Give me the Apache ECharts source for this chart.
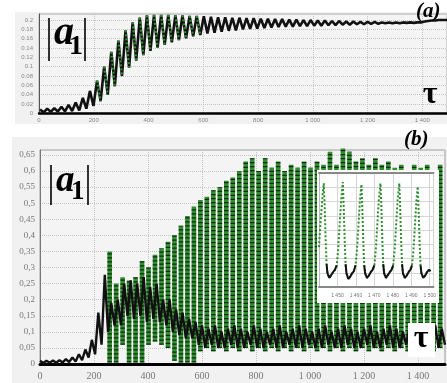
<!DOCTYPE html>
<html>
<head>
<meta charset="utf-8">
<script src="https://cdn.jsdelivr.net/npm/echarts@6/dist/echarts.min.js"></script>
<style>
html, body { margin: 0; padding: 0; background: #fff; }
#chart { position: absolute; left: 0; top: 0; width: 447px; height: 383px; }
#inset { position: absolute; left: 317px; top: 170px; width: 122px; height: 133px; background: #fff; }
</style>
</head>
<body>
<div id="chart"></div>
<div id="inset"></div>
<script>
// panel (a): |a1|, read every half period (peak, trough, peak ...)
const aStart = 4, aStep = 13;
const aVal = [
  0.008, 0.002, 0.010, 0.003, 0.011, 0.004, 0.014, 0.004, 0.018, 0.005,
  0.023, 0.006, 0.033, 0.010, 0.048, 0.016, 0.070, 0.026, 0.100, 0.040,
  0.132, 0.058, 0.156, 0.080, 0.178, 0.098, 0.195, 0.113, 0.205, 0.125,
  0.210, 0.134, 0.211, 0.141, 0.211, 0.147, 0.211, 0.152, 0.210, 0.157,
  0.210, 0.161, 0.209, 0.165, 0.209, 0.168, 0.208, 0.171, 0.207, 0.173,
  0.206, 0.175, 0.206, 0.177, 0.205, 0.178, 0.205, 0.180, 0.204, 0.181,
  0.204, 0.182, 0.203, 0.183, 0.203, 0.184, 0.202, 0.185, 0.202, 0.186,
  0.201, 0.186, 0.201, 0.187, 0.200, 0.187, 0.200, 0.188, 0.199, 0.188,
  0.199, 0.189, 0.198, 0.189, 0.198, 0.190, 0.197, 0.190, 0.197, 0.191,
  0.196, 0.191, 0.196, 0.192, 0.196, 0.192, 0.195, 0.193, 0.195, 0.193,
  0.195, 0.193, 0.195, 0.194, 0.195, 0.194, 0.195, 0.195, 0.197, 0.198,
  0.199, 0.199, 0.200, 0.200, 0.200, 0.200
];
// falling edges drawn green in (a), index range into aVal
const aGreenFrom = 16, aGreenTo = 46;

// panel (b): lower black trace
const bBlackStart = 0, bBlackStep = 12;
const bBlack = [
  0.010, 0.003, 0.010, 0.004, 0.011, 0.004, 0.012, 0.005, 0.015, 0.006,
  0.020, 0.008, 0.030, 0.012, 0.045, 0.020, 0.075, 0.030, 0.160, 0.060,
  0.277, 0.100, 0.190, 0.120, 0.200, 0.120, 0.250, 0.150, 0.260, 0.140,
  0.250, 0.150, 0.270, 0.130, 0.240, 0.140, 0.250, 0.130, 0.200, 0.120,
  0.200, 0.100, 0.170, 0.090, 0.160, 0.080, 0.140, 0.080, 0.130, 0.060,
  0.12, 0.05, 0.11, 0.06, 0.12, 0.05, 0.10, 0.05, 0.11, 0.06,
  0.12, 0.05, 0.11, 0.05, 0.10, 0.06, 0.12, 0.05, 0.11, 0.05,
  0.10, 0.06, 0.11, 0.05, 0.12, 0.05, 0.10, 0.06, 0.11, 0.05,
  0.12, 0.05, 0.11, 0.06, 0.10, 0.05, 0.11, 0.05, 0.12, 0.06,
  0.10, 0.05, 0.11, 0.05, 0.12, 0.06, 0.11, 0.05, 0.10, 0.05,
  0.11, 0.06, 0.12, 0.05, 0.10, 0.05, 0.11, 0.06, 0.12, 0.05,
  0.11, 0.05, 0.10, 0.06, 0.11, 0.05, 0.12, 0.05, 0.10, 0.06,
  0.11, 0.05, 0.12, 0.05, 0.11, 0.06
];
// panel (b): green swing columns, top and bottom of each
const bColStart = 258, bColStep = 24;
const bHi = [
  0.35, 0.25, 0.27, 0.26, 0.27, 0.32, 0.30, 0.34, 0.36, 0.38,
  0.40, 0.43, 0.46, 0.49, 0.51, 0.52, 0.54, 0.55, 0.57, 0.58,
  0.60, 0.63, 0.64, 0.60, 0.64, 0.61, 0.63, 0.60, 0.62, 0.61,
  0.63, 0.61, 0.63, 0.62, 0.66, 0.62, 0.67, 0.66, 0.63, 0.64,
  0.62, 0.64, 0.62, 0.63, 0.61, 0.62, 0.60, 0.62, 0.61, 0.62,
  0.60, 0.62
];
const bLo = [
  0.005, 0.005, 0.06, 0.005, 0.005, 0.005, 0.06, 0.07, 0.06, 0.05,
  0.010, 0.005, 0.005, 0.005, 0.04, 0.05, 0.04, 0.05, 0.04, 0.05,
  0.04, 0.05, 0.04, 0.05, 0.04, 0.05, 0.04, 0.05, 0.04, 0.05,
  0.04, 0.05, 0.04, 0.05, 0.04, 0.05, 0.04, 0.05, 0.04, 0.05,
  0.04, 0.05, 0.04, 0.05, 0.04, 0.05, 0.04, 0.05, 0.04, 0.05,
  0.04, 0.05
];

// inset of (b): tau 1440..1500
const insTau = [
  1440.0, 1441.0, 1442.0, 1442.6,
  1443.1, 1443.6, 1444.1, 1444.6, 1445.6, 1446.6, 1447.6, 1448.6, 1449.6, 1450.4, 1451.2, 1452.0, 1452.9,
  1453.4, 1453.9, 1454.4, 1454.9, 1455.9, 1456.9, 1457.9, 1458.9, 1459.8, 1460.6, 1461.4, 1462.2, 1463.0,
  1463.5, 1464.0, 1464.5, 1465.0, 1466.0, 1467.0, 1468.0, 1469.0, 1470.0, 1470.8, 1471.6, 1472.4, 1473.3,
  1473.8, 1474.3, 1474.8, 1475.3, 1476.3, 1477.3, 1478.3, 1479.3, 1480.2, 1481.0, 1481.8, 1482.6, 1483.5,
  1484.0, 1484.5, 1485.0, 1485.5, 1486.5, 1487.5, 1488.5, 1489.5, 1490.4, 1491.2, 1492.0, 1492.8, 1493.5,
  1494.0, 1494.5, 1495.0, 1495.5, 1496.5, 1497.5, 1498.5, 1499.5, 1500.5
];
const insVal = [
  0.35, 0.60, 0.82, 0.91,
  0.70, 0.42, 0.20, 0.12, 0.08, 0.09, 0.13, 0.15, 0.19, 0.33, 0.55, 0.76, 0.92,
  0.70, 0.42, 0.20, 0.12, 0.07, 0.09, 0.12, 0.14, 0.19, 0.33, 0.55, 0.76, 0.90,
  0.68, 0.40, 0.19, 0.12, 0.08, 0.10, 0.13, 0.15, 0.19, 0.33, 0.55, 0.76, 0.91,
  0.70, 0.42, 0.20, 0.12, 0.08, 0.09, 0.13, 0.15, 0.19, 0.33, 0.55, 0.76, 0.91,
  0.69, 0.41, 0.20, 0.12, 0.08, 0.10, 0.13, 0.15, 0.19, 0.33, 0.55, 0.76, 0.88,
  0.66, 0.40, 0.19, 0.12, 0.08, 0.10, 0.13, 0.15, 0.14
];

const green = '#2f8f2f';
const serif = 'Liberation Serif';
const narrow = 'Liberation Sans Narrow';

function tauLabel(v) {
  if (v >= 1000) return '1 ' + String(v - 1000).padStart(3, '0');
  return String(v);
}

// text in the panels
function txt(x, y, s, size, italic, align) {
  return { type: 'text', z: 100, x: x, y: y,
    style: { text: s, fontSize: size, fontWeight: 'bold', fontStyle: italic ? 'italic' : 'normal',
      fontFamily: serif, fill: '#000', align: align || 'left', verticalAlign: 'middle' } };
}
function bar(x, y1, y2) {
  return { type: 'line', z: 100, shape: { x1: x, y1: y1, x2: x, y2: y2 }, style: { stroke: '#000', lineWidth: 1.6 } };
}

// build series data
let aLine = aVal.map((v, i) => [aStart + i * aStep, v]);
let aGreen = [];
for (let i = aGreenFrom; i < aGreenTo; i += 2) {
  aGreen.push(aLine[i], aLine[i + 1], [aLine[i + 1][0], '-']);
}
let bLine = bBlack.map((v, i) => [bBlackStart + i * bBlackStep, v]);
let bCols = [];
bHi.forEach((hi, k) => {
  let t = bColStart + k * bColStep;
  bCols.push([t, bLo[k]], [t, hi], [t, '-']);
});

var myChart = echarts.init(document.getElementById('chart'));

let option = {
  animation: false,
  graphic: [
    { type: 'rect', z: -10, shape: { x: 15, y: 12, width: 432, height: 112 }, style: { fill: '#f1f1f1' } },
    { type: 'rect', z: -10, shape: { x: 12, y: 137, width: 435, height: 246 }, style: { fill: '#f1f1f1' } },
    bar(49, 18, 61), bar(85, 18, 61),
    txt(54, 34, 'a', 40, true),
    txt(69, 47, '1', 28, false),
    txt(416, 12, '(a)', 21, true),
    txt(430, 95, 'τ', 32, false, 'center'),
    bar(51, 165, 205), bar(88, 165, 205),
    txt(56, 181, 'a', 37, true),
    txt(71, 192, '1', 27, false),
    txt(404, 140, '(b)', 21, true),
    { type: 'rect', z: 99, shape: { x: 408, y: 323, width: 27, height: 34 }, style: { fill: '#fff' } },
    txt(421, 339, 'τ', 32, false, 'center')
  ],
  grid: [
    { left: 39, top: 14, right: 0, bottom: 269.7, show: true, backgroundColor: '#f4f4f4', borderColor: '#b0b0b0', borderWidth: 1 },
    { left: 40, top: 150, right: 2, bottom: 19, show: true, backgroundColor: '#f4f4f4', borderColor: '#a0a0a0', borderWidth: 1 }
  ],
  xAxis: [
    {
      gridIndex: 0, type: 'value', min: 0, max: 1490, interval: 200,
      axisLine: { lineStyle: { color: '#000', width: 2.5 } },
      axisTick: { show: false },
      axisLabel: { fontSize: 6, color: '#888', margin: 4, showMaxLabel: false, formatter: tauLabel },
      splitLine: { show: true, lineStyle: { color: '#c4c4c4', type: 'dotted' } }
    },
    {
      gridIndex: 1, type: 'value', min: 0, max: 1500, interval: 200,
      axisLine: { lineStyle: { color: '#000', width: 3 } },
      axisTick: { show: false },
      axisLabel: { fontSize: 10, color: '#777', margin: 7, fontFamily: narrow, showMaxLabel: false, formatter: tauLabel },
      splitLine: { show: true, lineStyle: { color: '#c4c4c4', type: 'dotted' } }
    }
  ],
  yAxis: [
    {
      gridIndex: 0, type: 'value', min: 0, max: 0.213, interval: 0.02,
      axisLine: { show: true, lineStyle: { color: '#555', width: 1 } },
      axisTick: { show: false },
      axisLabel: { fontSize: 6, color: '#888', margin: 6, showMaxLabel: false },
      splitLine: { show: true, lineStyle: { color: '#c4c4c4', type: 'dotted' } }
    },
    {
      gridIndex: 1, type: 'value', min: 0, max: 0.6655, interval: 0.05,
      axisLine: { show: true, lineStyle: { color: '#777', width: 1 } },
      axisTick: { show: false },
      axisLabel: { fontSize: 9, color: '#777', margin: 5, fontFamily: narrow, showMaxLabel: false,
        formatter: v => String(+v.toFixed(2)).replace('.', ',') },
      splitLine: { show: true, lineStyle: { color: '#c4c4c4', type: 'dotted' } }
    }
  ],
  series: [
    { type: 'line', xAxisIndex: 0, yAxisIndex: 0, data: aLine, symbol: 'none', clip: true,
      lineStyle: { color: '#111', width: 2.6 } },
    { type: 'line', xAxisIndex: 0, yAxisIndex: 0, data: aGreen, symbol: 'none', clip: true,
      lineStyle: { color: green, width: 2.2, type: [2, 2] } },
    { type: 'line', xAxisIndex: 1, yAxisIndex: 1, data: bCols, symbol: 'none', clip: true,
      lineStyle: { color: green, width: 4.6 } },
    { type: 'line', xAxisIndex: 1, yAxisIndex: 1, data: bCols, symbol: 'none', clip: true,
      lineStyle: { color: '#0c1a0c', width: 4.6, type: [1.2, 2.8], opacity: 0.85 } },
    { type: 'line', xAxisIndex: 1, yAxisIndex: 1, data: bLine, symbol: 'none', clip: true,
      lineStyle: { color: '#111', width: 2.4 } }
  ]
};
myChart.setOption(option);

// inset chart
var insetChart = echarts.init(document.getElementById('inset'));
let insGreen = insTau.map((t, i) => [t, insVal[i]]);
let insBlack = insTau.map((t, i) => [t, insVal[i] <= 0.2 ? insVal[i] : '-']);
insetChart.setOption({
  animation: false,
  grid: { left: 2, top: 3, width: 119, height: 114 },
  xAxis: [
    {
      type: 'value', min: 1440, max: 1502, interval: 10,
      axisLine: { lineStyle: { color: '#888', width: 2 } },
      axisTick: { show: false },
      axisLabel: { fontSize: 5, color: '#777', margin: 6, showMinLabel: false, showMaxLabel: false, formatter: tauLabel },
      splitLine: { show: true, lineStyle: { color: '#d6d6d6', width: 1 } }
    },
    {
      type: 'value', min: 1440, max: 1502, position: 'top',
      axisLine: { lineStyle: { color: '#888', width: 2 } },
      axisTick: { show: false }, axisLabel: { show: false }, splitLine: { show: false }
    }
  ],
  yAxis: {
    type: 'value', min: 0, max: 1, interval: 0.125,
    axisLine: { show: true, lineStyle: { color: '#bbb' } },
    axisTick: { show: false }, axisLabel: { show: false },
    splitLine: { show: true, lineStyle: { color: '#d6d6d6', width: 1 } }
  },
  series: [
    { type: 'line', data: insGreen, symbol: 'none', lineStyle: { color: green, width: 2, type: [2, 2] } },
    { type: 'line', data: insBlack, symbol: 'none', lineStyle: { color: '#111', width: 2 } }
  ]
});
</script>
</body>
</html>
